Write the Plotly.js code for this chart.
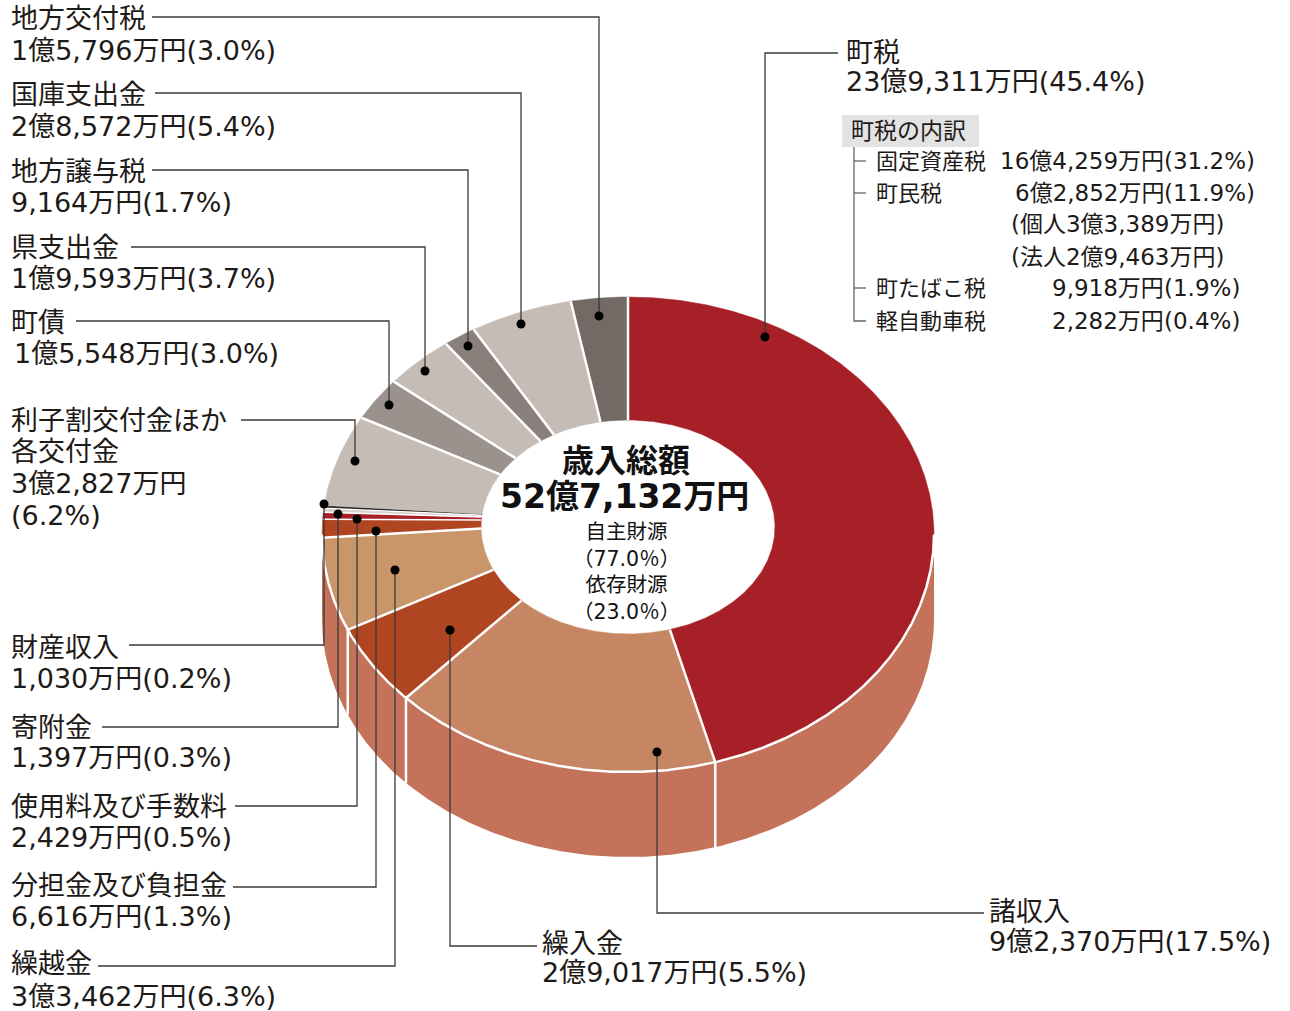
<!DOCTYPE html>
<html><head><meta charset="utf-8">
<script src="https://cdn.plot.ly/plotly-3.0.1.min.js"></script>
<style>body{margin:0;background:#fff}</style>
</head><body><div id="chart" style="width:1290px;height:1011px"></div>
<script>
// ---------------- DATA ----------------
const categories = ['町税','諸収入','繰入金','繰越金','分担金及び負担金','使用料及び手数料','寄附金','財産収入','利子割交付金ほか各交付金','町債','県支出金','地方譲与税','国庫支出金','地方交付税'];
const amounts = [239311, 92370, 29017, 33462, 6616, 2429, 1397, 1030, 32827, 15548, 19593, 9164, 28572, 15796]; // 万円
const amountLabels = ['23億9,311万円','9億2,370万円','2億9,017万円','3億3,462万円','6,616万円','2,429万円','1,397万円','1,030万円','3億2,827万円','1億5,548万円','1億9,593万円','9,164万円','2億8,572万円','1億5,796万円'];
const pctLabels = ['45.4%','17.5%','5.5%','6.3%','1.3%','0.5%','0.3%','0.2%','6.2%','3.0%','3.7%','1.7%','5.4%','3.0%'];
const totalLabel = '52億7,132万円';
const ownSourcePct = '77.0％';
const depSourcePct = '23.0％';
const taxItems = ['固定資産税','町民税','町たばこ税','軽自動車税'];
const taxAmounts = ['16億4,259万円','6億2,852万円','9,918万円','2,282万円'];
const taxPcts = ['31.2%','11.9%','1.9%','0.4%'];
const residentSplit = ['(個人3億3,389万円)','(法人2億9,463万円)'];

// ---------------- STYLE ----------------
const sliceColors = ['#a71f27','#c68663','#b04522','#c9966a','#b04522','#a71f27','#d9d0cc','#2a2522','#c6bcb6','#9b928d','#c6bcb6','#8a807b','#c6bcb6','#746a65'];
const sideColor = '#c4725a';
const G = {cx:628, cy:534.5, rx:306, ry:237.5, depth:85, hcx:628, hcy:527, hrx:147, hry:107};
const sepWidth = [2.5,2.5,2.5,2.5,1.5,1.5,1.5,0,2.5,2.5,2.5,2.5,2.5,2.5];
const FONT = 'DejaVu Sans, Noto Sans CJK JP, sans-serif';
const TXT = '#1e1a18';

const labelPos = [
  {x:845, ys:[52,81],   path:[[838,53],[765,53],[765,337]]},
  {x:988, ys:[911,941], path:[[657,752],[657,913],[984,913]]},
  {x:541, ys:[943,972], path:[[450,630],[450,946],[537,946]]},
  {x:10,  ys:[963,996], path:[[98,966],[395,966],[395,570]]},
  {x:10,  ys:[885,916], path:[[233,887],[376,887],[376,531]]},
  {x:10,  ys:[806,837], path:[[235,806],[357,806],[357,519]]},
  {x:10,  ys:[727,757], path:[[102,727],[338,727],[338,514]]},
  {x:10,  ys:[647,678], path:[[129,645],[324,645],[324,504]]},
  {x:10,  ys:[420,451,483,515], path:[[241,420],[355,420],[355,461]]},
  {x:10,  ys:[322,353], path:[[76,321],[389,321],[389,405]]},
  {x:10,  ys:[247,278], path:[[131,247],[425,247],[425,371]]},
  {x:10,  ys:[171,202], path:[[152,170],[468,170],[468,346]]},
  {x:10,  ys:[94,126],  path:[[155,93],[521,93],[521,324]]},
  {x:10,  ys:[18,50],   path:[[152,17],[599,17],[599,316]]}
];

// ---------------- BUILD ----------------
const total = amounts.reduce((a,b)=>a+b,0);
const rad = d => d*Math.PI/180;
function ox(t){return G.cx + G.rx*Math.sin(rad(t));}
function oy(t){return G.cy - G.ry*Math.cos(rad(t));}
function ix(t){return G.hcx + G.hrx*Math.sin(rad(t));}
function iy(t){return G.hcy - G.hry*Math.cos(rad(t));}
function range(a,b){const n=Math.max(2,Math.ceil(Math.abs(b-a)/0.4)+1);const r=[];for(let k=0;k<n;k++)r.push(a+(b-a)*k/(n-1));return r;}

const traces = [];
{
  const top = range(90,270), bot = range(270,90);
  const xs = top.map(ox).concat(bot.map(ox));
  const ys = top.map(oy).concat(bot.map(t=>oy(t)+G.depth));
  traces.push({type:'scatter',mode:'lines',x:xs,y:ys,fill:'toself',fillcolor:sideColor,line:{width:0,color:sideColor},hoverinfo:'skip'});
}
const bounds = [0];
let cum = 0;
amounts.forEach(v=>{cum+=v;bounds.push(cum/total*360);});
{
  const xs=[],ys=[];
  for(let i=1;i<bounds.length-1;i++){
    const t=bounds[i];
    if(t>90 && t<268){xs.push(ox(t),ox(t),null);ys.push(oy(t),oy(t)+G.depth,null);}
  }
  traces.push({type:'scatter',mode:'lines',x:xs,y:ys,line:{color:'#ffffff',width:2.5},hoverinfo:'skip'});
}
amounts.forEach((v,i)=>{
  const a1=bounds[i], a2=bounds[i+1];
  const o=range(a1,a2), inn=range(a2,a1);
  const xs=o.map(ox).concat(inn.map(ix)); const ys=o.map(oy).concat(inn.map(iy));
  xs.push(xs[0]); ys.push(ys[0]);
  traces.push({type:'scatter',mode:'lines',x:xs,y:ys,fill:'toself',fillcolor:sliceColors[i],line:{width:0.5,color:sliceColors[i]},name:categories[i],hoverinfo:'name'});
});
amounts.forEach((v,i)=>{
  const w = sepWidth[i];
  if(!w) return;
  const t = bounds[i+1];
  traces.push({type:'scatter',mode:'lines',x:[ix(t),ox(t)],y:[iy(t),oy(t)],line:{color:'#ffffff',width:w},hoverinfo:'skip'});
});
{
  const a = range(90,270);
  traces.push({type:'scatter',mode:'lines',x:a.map(ox),y:a.map(oy),line:{color:'#ffffff',width:2.5},hoverinfo:'skip'});
}

const shapes = [];
const annotations = [];
function ann(x,y,text,size,opts={}){
  annotations.push(Object.assign({x:x,y:y,xref:'x',yref:'y',text:text,showarrow:false,xanchor:'left',yanchor:'middle',borderpad:0,
    font:{family:FONT,size:size,color:TXT}},opts));
}
categories.forEach((c,i)=>{
  const p = labelPos[i];
  let lines;
  if(i===8) lines = ['利子割交付金ほか','各交付金',amountLabels[i],'('+pctLabels[i]+')'];
  else lines = [c, amountLabels[i]+'('+pctLabels[i]+')'];
  lines.forEach((l,k)=>ann(p.x + (i===9 && k===1 ? 3 : 0), p.ys[k], l, 27));
  const d = 'M ' + p.path.map(q=>q[0]+' '+q[1]).join(' L ');
  shapes.push({type:'path',path:d,xref:'x',yref:'y',line:{color:'#3a3a3a',width:1.3}});
  const dot = (i===1||i===2) ? p.path[0] : p.path[p.path.length-1];
  shapes.push({type:'circle',xref:'x',yref:'y',x0:dot[0]-4.5,x1:dot[0]+4.5,y0:dot[1]-4.5,y1:dot[1]+4.5,fillcolor:'#000',line:{width:0}});
});

const cfont = (s,b)=>({family:FONT,size:s,color:'#111',weight:b?'bold':'normal'});
annotations.push({x:626,y:461,xref:'x',yref:'y',text:'<b>歳入総額</b>',showarrow:false,xanchor:'center',yanchor:'middle',font:cfont(32,true)});
annotations.push({x:624,y:496,xref:'x',yref:'y',text:'<b>'+totalLabel+'</b>',showarrow:false,xanchor:'center',yanchor:'middle',font:cfont(33,true)});
annotations.push({x:626,y:572,xref:'x',yref:'y',text:['自主財源','（'+ownSourcePct+'）','依存財源','（'+depSourcePct+'）'].join('<br>'),
  showarrow:false,xanchor:'center',yanchor:'middle',align:'center',font:{family:FONT,size:20.5,color:'#111'}});

shapes.push({type:'rect',xref:'x',yref:'y',x0:842,x1:979,y0:115,y1:147,fillcolor:'#e3e3e3',line:{width:0},layer:'below'});
ann(850,131,'町税の内訳',23);
const rowY = [161,193,288,321];
shapes.push({type:'path',xref:'x',yref:'y',path:'M 854 147 L 854 321 L 866 321',line:{color:'#666',width:1.3}});
rowY.slice(0,3).forEach(y=>shapes.push({type:'path',xref:'x',yref:'y',path:'M 854 '+y+' L 866 '+y,line:{color:'#666',width:1.3}}));
taxItems.forEach((t,k)=>{
  ann(875,rowY[k],t,22);
  ann(1165,rowY[k],taxAmounts[k],23,{xanchor:'right'});
  ann(1163,rowY[k],'('+taxPcts[k]+')',23);
});
ann(1010,224,residentSplit[0],23);
ann(1010,257,residentSplit[1],23);

const layout = {
  width:1290,height:1011,margin:{l:0,r:0,t:0,b:0},
  paper_bgcolor:'#fff',plot_bgcolor:'#fff',showlegend:false,
  xaxis:{range:[0,1290],visible:false,fixedrange:true},
  yaxis:{range:[1011,0],visible:false,fixedrange:true},
  shapes:shapes,annotations:annotations
};
Plotly.newPlot('chart',traces,layout,{staticPlot:true});
</script></body></html>
